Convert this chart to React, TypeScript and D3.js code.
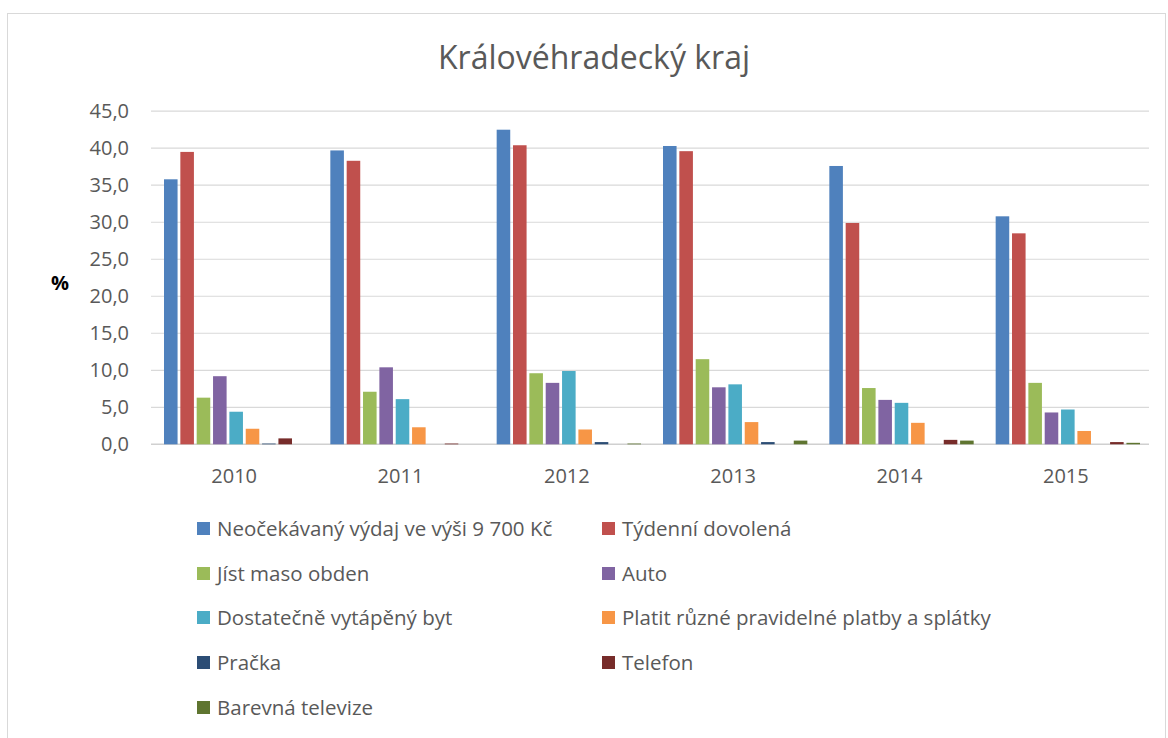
import React from "react";
import * as d3 from "d3";

const years = ["2010", "2011", "2012", "2013", "2014", "2015"];
const seriesNames = [
  "Neočekávaný výdaj ve výši 9 700 Kč",
  "Týdenní dovolená",
  "Jíst maso obden",
  "Auto",
  "Dostatečně vytápěný byt",
  "Platit různé pravidelné platby a splátky",
  "Pračka",
  "Telefon",
  "Barevná televize",
];
const vydaj = [35.8, 39.7, 42.5, 40.3, 37.6, 30.8];
const dovolena = [39.5, 38.3, 40.4, 39.6, 29.9, 28.5];
const maso = [6.3, 7.1, 9.6, 11.5, 7.6, 8.3];
const auto = [9.2, 10.4, 8.3, 7.7, 6.0, 4.3];
const byt = [4.4, 6.1, 9.9, 8.1, 5.6, 4.7];
const platby = [2.1, 2.3, 2.0, 3.0, 2.9, 1.8];
const pracka = [0.1, 0.0, 0.3, 0.3, 0.0, 0.0];
const telefon = [0.8, 0.1, 0.0, 0.0, 0.6, 0.3];
const televize = [0.0, 0.0, 0.1, 0.5, 0.5, 0.2];
const seriesValues = [vydaj, dovolena, maso, auto, byt, platby, pracka, telefon, televize];
const yTicks = [0, 5, 10, 15, 20, 25, 30, 35, 40, 45];

const colors = ["#4F81BD", "#C0504D", "#9BBB59", "#8064A2", "#4BACC6", "#F79646", "#2C4D75", "#772C2A", "#5F7530"];

export default function App() {
  const W = 1168, H = 738;
  const left = 151, right = 1149, top = 111.2, bottom = 444.3;
  const y = d3.scaleLinear().domain([0, 45]).range([bottom, top]);
  const x0 = d3.scaleBand<string>().domain(years).range([left, right]).padding(0);
  const x1 = d3.scaleBand<string>().domain(seriesNames).range([13, x0.bandwidth() - 9]).paddingInner(0.17);
  const fmt = (v: number) => d3.format(".1f")(v).replace(".", ",");
  const font = "'Open Sans', 'Noto Sans', sans-serif";
  const legendRows = [529, 574, 618, 663, 708];
  return (
    <svg width={W} height={H} style={{ position: "absolute", left: 0, top: 0, background: "#fff" }} fontFamily={font}>
      <rect x={7.5} y={13.5} width={1158} height={740} fill="#fff" stroke="#d9d9d9" />
      <text x={594} y={58} dy="0.35em" textAnchor="middle" fontSize={32} fill="#595959">Královéhradecký kraj</text>
      {yTicks.map((t) => (
        <g key={t}>
          <line x1={left} x2={right} y1={y(t)} y2={y(t)} stroke={t === 0 ? "#d0d0d0" : "#d9d9d9"} strokeWidth={t === 0 ? 1.5 : 1.2} />
          <text x={129} y={y(t)} dy="0.35em" textAnchor="end" fontSize={20} fill="#595959">{fmt(t)}</text>
        </g>
      ))}
      <text x={60} y={283} dy="0.35em" textAnchor="middle" fontSize={20} fontWeight="bold" fill="#000">%</text>
      {years.map((yr, i) => (
        <g key={yr} transform={`translate(${x0(yr)},0)`}>
          {seriesNames.map((s, j) => {
            const v = seriesValues[j][i];
            if (v <= 0) return null;
            return (
              <rect key={s} x={x1(s)} y={y(v)} width={x1.bandwidth()} height={bottom - y(v)} fill={colors[j]} />
            );
          })}
          <text x={x0.bandwidth() / 2} y={476} dy="0.35em" textAnchor="middle" fontSize={20} fill="#595959">{yr}</text>
        </g>
      ))}
      {seriesNames.map((s, j) => {
        const col = j % 2;
        const row = Math.floor(j / 2);
        const sx = col === 0 ? 197 : 602;
        const cy = legendRows[row];
        return (
          <g key={s}>
            <rect x={sx} y={cy - 7} width={13} height={13} fill={colors[j]} />
            <text x={sx + 20} y={cy} dy="0.35em" fontSize={20.5} fill="#595959">{s}</text>
          </g>
        );
      })}
    </svg>
  );
}
